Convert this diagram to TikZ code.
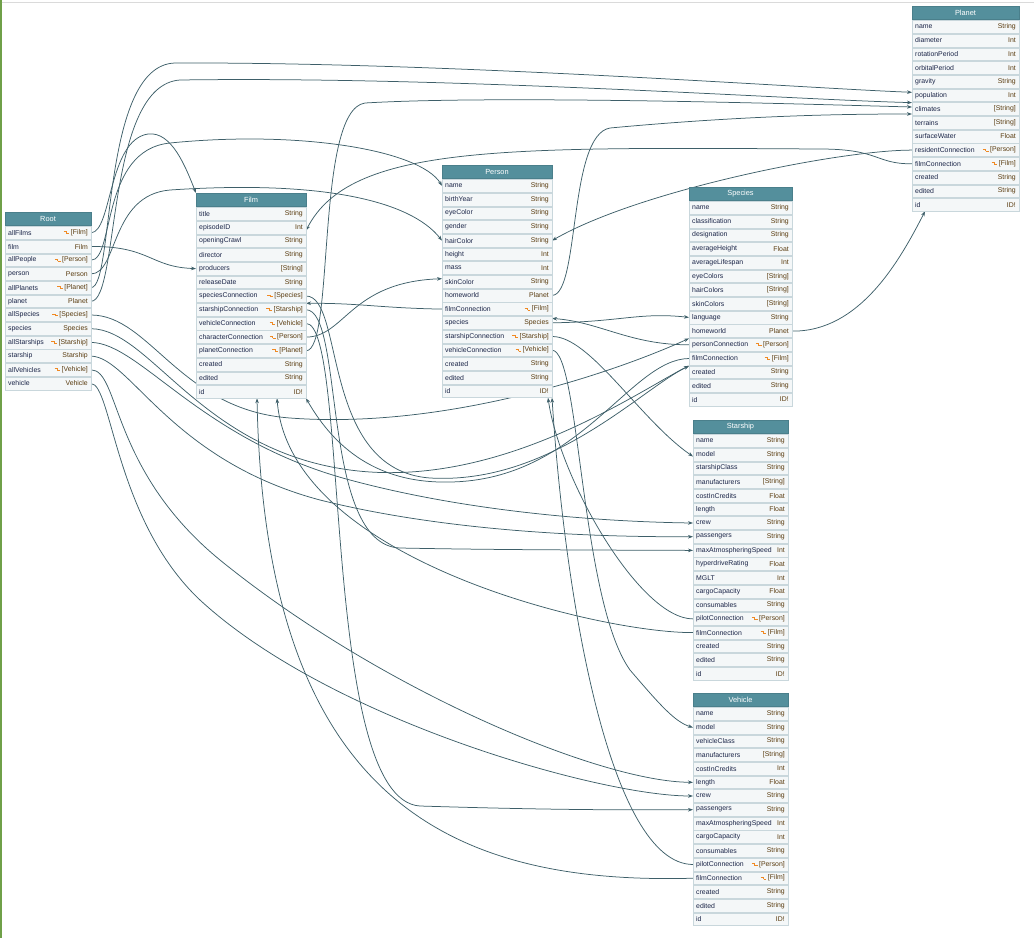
\documentclass[tikz,border=0pt]{standalone}
\usepackage{fontspec}
\setmainfont{Liberation Sans}
\usetikzlibrary{arrows.meta,calc}

\definecolor{headfill}{HTML}{548F9C}
\definecolor{headline}{HTML}{4A7F8B}
\definecolor{rowfill}{HTML}{F4F7F8}
\definecolor{rowline}{HTML}{C9D7DC}
\definecolor{namecol}{HTML}{1B2548}
\definecolor{typecol}{HTML}{5A3C10}
\definecolor{conncol}{HTML}{F08A24}
\definecolor{edgecol}{HTML}{3E5F69}
\definecolor{framegreen}{HTML}{6FA048}
\definecolor{topgray}{HTML}{DADADA}

\pgfdeclarelayer{edges}
\pgfsetlayers{edges,main}

\tikzset{
  typehead/.style={draw=headline, fill=headfill, text=white, font=\fontsize{7.4}{9}\selectfont,
    minimum height=13.6pt, inner sep=0pt, outer sep=0pt},
  fieldrow/.style={draw=rowline, fill=rowfill, line width=0.6pt, minimum height=12.8pt,
    inner sep=0pt, outer sep=0pt},
  fieldname/.style={text=namecol, font=\fontsize{6.9}{8}\selectfont, inner sep=0pt, xshift=3pt},
  fieldtype/.style={text=typecol, font=\fontsize{6.9}{8}\selectfont, inner sep=0pt, xshift=-3pt},
  edge/.style={draw=edgecol, line width=0.75pt, -{Stealth[length=5pt,width=3.6pt]}},
}

% connection marker in front of a list type
\newcommand{\conn}[1]{{\color{conncol}\rule[2.5pt]{2.4pt}{0.7pt}\rule[0.6pt]{0.7pt}{2.6pt}\rule[0.6pt]{2.6pt}{0.7pt}}\kern1.5pt[#1]}

% one type box: name, left x, top y, width, title, field/type list
\newcommand{\gqltable}[6]{%
  \node[typehead, minimum width=#4pt, anchor=north west] (#1) at (#2,#3) {#5};
  \foreach \fname/\ftype [count=\k] in {#6} {
    \node[fieldrow, minimum width=#4pt, anchor=north west] (#1-\fname) at ({#2},{#3+14.4+(\k-1)*13.7}) {};
    \node[fieldname, anchor=west] at (#1-\fname.west) {\fname};
    \node[fieldtype, anchor=east] at (#1-\fname.east) {\ftype};
  }
}

\begin{document}
\begin{tikzpicture}[x=1pt,y=-1pt]
    \useasboundingbox (0,0) rectangle (1034,938);

    % Page frame
    \fill[framegreen] (0,0) rectangle (1.6,938);
    \draw[topgray, line width=1.2pt] (1.6,2.5) -- (1034,2.5);

    % Types
    \gqltable{root}{5}{212}{86}{Root}{allFilms/\conn{Film}, film/Film, allPeople/\conn{Person},
      person/Person, allPlanets/\conn{Planet}, planet/Planet, allSpecies/\conn{Species},
      species/Species, allStarships/\conn{Starship}, starship/Starship,
      allVehicles/\conn{Vehicle}, vehicle/Vehicle}

    \gqltable{film}{196}{193}{110}{Film}{title/String, episodeID/Int, openingCrawl/String,
      director/String, producers/[String], releaseDate/String,
      speciesConnection/\conn{Species}, starshipConnection/\conn{Starship},
      vehicleConnection/\conn{Vehicle}, characterConnection/\conn{Person},
      planetConnection/\conn{Planet}, created/String, edited/String, id/ID!}

    \gqltable{person}{442}{165}{110}{Person}{name/String, birthYear/String, eyeColor/String,
      gender/String, hairColor/String, height/Int, mass/Int, skinColor/String,
      homeworld/Planet, filmConnection/\conn{Film}, species/Species,
      starshipConnection/\conn{Starship}, vehicleConnection/\conn{Vehicle},
      created/String, edited/String, id/ID!}

    \gqltable{species}{689}{187}{103}{Species}{name/String, classification/String,
      designation/String, averageHeight/Float, averageLifespan/Int, eyeColors/[String],
      hairColors/[String], skinColors/[String], language/String, homeworld/Planet,
      personConnection/\conn{Person}, filmConnection/\conn{Film}, created/String,
      edited/String, id/ID!}

    \gqltable{planet}{912}{6}{107}{Planet}{name/String, diameter/Int, rotationPeriod/Int,
      orbitalPeriod/Int, gravity/String, population/Int, climates/[String],
      terrains/[String], surfaceWater/Float, residentConnection/\conn{Person},
      filmConnection/\conn{Film}, created/String, edited/String, id/ID!}

    \gqltable{starship}{693}{420}{95}{Starship}{name/String, model/String,
      starshipClass/String, manufacturers/[String], costInCredits/Float, length/Float,
      crew/String, passengers/String, maxAtmospheringSpeed/Int, hyperdriveRating/Float,
      MGLT/Int, cargoCapacity/Float, consumables/String, pilotConnection/\conn{Person},
      filmConnection/\conn{Film}, created/String, edited/String, id/ID!}

    \gqltable{vehicle}{693}{693}{95}{Vehicle}{name/String, model/String,
      vehicleClass/String, manufacturers/[String], costInCredits/Int, length/Float,
      crew/String, passengers/String, maxAtmospheringSpeed/Int, cargoCapacity/Int,
      consumables/String, pilotConnection/\conn{Person}, filmConnection/\conn{Film},
      created/String, edited/String, id/ID!}

    \begin{pgfonlayer}{edges}
    % Root
    \draw[edge] (root-allFilms.east) .. controls (112,232) and (108,140) .. (148,134)
        .. controls (172,131) and (186,168) .. (film.north west);
    \draw[edge] (root-film.east) .. controls (150,246) and (150,267) .. (film-producers.west);
    \draw[edge] (root-allPeople.east) .. controls (115,260) and (100,150) .. (170,143)
        .. controls (300,130) and (420,150) .. (person-name.west);
    \draw[edge] (root-person.east) .. controls (118,274) and (110,195) .. (170,190)
        .. controls (320,180) and (410,200) .. (person-hairColor.west);
    \draw[edge] (root-allPlanets.east) .. controls (115,288) and (100,65) .. (175,63)
        .. controls (450,62) and (800,88) .. ($(planet-population.west)+(0,-3)$);
    \draw[edge] (root-planet.east) .. controls (120,301) and (105,85) .. (180,80)
        .. controls (450,76) and (800,100) .. (planet-climates.north west);
    \draw[edge] (root-allSpecies.east) .. controls (150,315) and (180,410) .. (290,418)
        .. controls (450,430) and (620,370) .. (species-personConnection.north west);
    \draw[edge] (root-species.east) .. controls (150,329) and (200,450) .. (350,470)
        .. controls (500,490) and (640,390) .. (species-created.north west);
    \draw[edge] (root-allStarships.east) .. controls (140,343) and (200,440) .. (350,480)
        .. controls (480,515) and (620,522) .. (starship-crew.west);
    \draw[edge] (root-starship.east) .. controls (130,357) and (170,460) .. (320,500)
        .. controls (460,535) and (620,537) .. (starship-passengers.west);
    \draw[edge] (root-allVehicles.east) .. controls (120,370) and (110,470) .. (220,560)
        .. controls (380,690) and (600,782) .. (vehicle-length.west);
    \draw[edge] (root-vehicle.east) .. controls (112,384) and (115,520) .. (200,600)
        .. controls (330,720) and (600,796) .. (vehicle-crew.west);

    % Film
    \draw[edge] (film-speciesConnection.east) .. controls (345,296) and (320,470) .. (430,478)
        .. controls (550,485) and (640,390) .. (species-created.north west);
    \draw[edge] (film-starshipConnection.east) .. controls (345,310) and (320,545) .. (400,548)
        .. controls (500,550) and (600,550) .. (starship-maxAtmospheringSpeed.west);
    \draw[edge] (film-vehicleConnection.east) .. controls (350,323) and (320,800) .. (420,806)
        .. controls (550,810) and (620,810) .. (vehicle-passengers.west);
    \draw[edge] (film-characterConnection.east) .. controls (345,337) and (350,282)
        .. ($(person-skinColor.west)+(0,-3)$);
    \draw[edge] (film-planetConnection.east) .. controls (335,351) and (315,110) .. (365,103)
        .. controls (500,95) and (800,104) .. ($(planet-climates.west)+(0,-2)$);

    % Person
    \draw[edge] (person-homeworld.east) .. controls (580,295) and (568,135) .. (610,128)
        .. controls (750,115) and (850,114) .. ($(planet-climates.west)+(0,5)$);
    \draw[edge] (person-filmConnection.west) .. controls (380,308) and (360,303)
        .. (film-starshipConnection.north east);
    \draw[edge] (person-species.east) .. controls (620,322) and (640,312) .. (species-language.west);
    \draw[edge] (person-starshipConnection.east) .. controls (590,336) and (640,420)
        .. ($(starship-model.west)+(0,2)$);
    \draw[edge] (person-vehicleConnection.east) .. controls (580,350) and (580,600) .. (630,670)
        .. controls (660,705) and (675,722) .. (vehicle-model.west);

    % Species
    \draw[edge] (species-homeworld.east) .. controls (860,332) and (900,260)
        .. ($(planet-id.south west)+(13,0)$);
    \draw[edge] (species-personConnection.west) .. controls (630,345) and (600,322)
        .. ($(person-species.north east)+(0,2)$);
    \draw[edge] (species-filmConnection.west) .. controls (630,359) and (580,480) .. (450,482)
        .. controls (370,484) and (330,440) .. (film-id.south east);

    % Planet
    \draw[edge] (planet-residentConnection.west) .. controls (840,150) and (640,190)
        .. (person-hairColor.east);
    \draw[edge] (planet-filmConnection.west) .. controls (875,164) and (880,149) .. (820,149)
        .. controls (500,147) and (350,145) .. ($(film-episodeID.east)+(0,3)$);

    % Starship
    \draw[edge] (starship-pilotConnection.west) .. controls (640,619) and (560,480)
        .. ($(person-id.south east)+(-4,0)$);
    \draw[edge] (starship-filmConnection.west) .. controls (600,633) and (290,560)
        .. ($(film-id.south)+(26,0)$);

    % Vehicle
    \draw[edge] (vehicle-pilotConnection.west) .. controls (610,864) and (565,600)
        .. (person-id.south east);
    \draw[edge] (vehicle-filmConnection.west) .. controls (450,885) and (265,800)
        .. ($(film-id.south)+(6,0)$);
    \end{pgfonlayer}

\end{tikzpicture}
\end{document}
